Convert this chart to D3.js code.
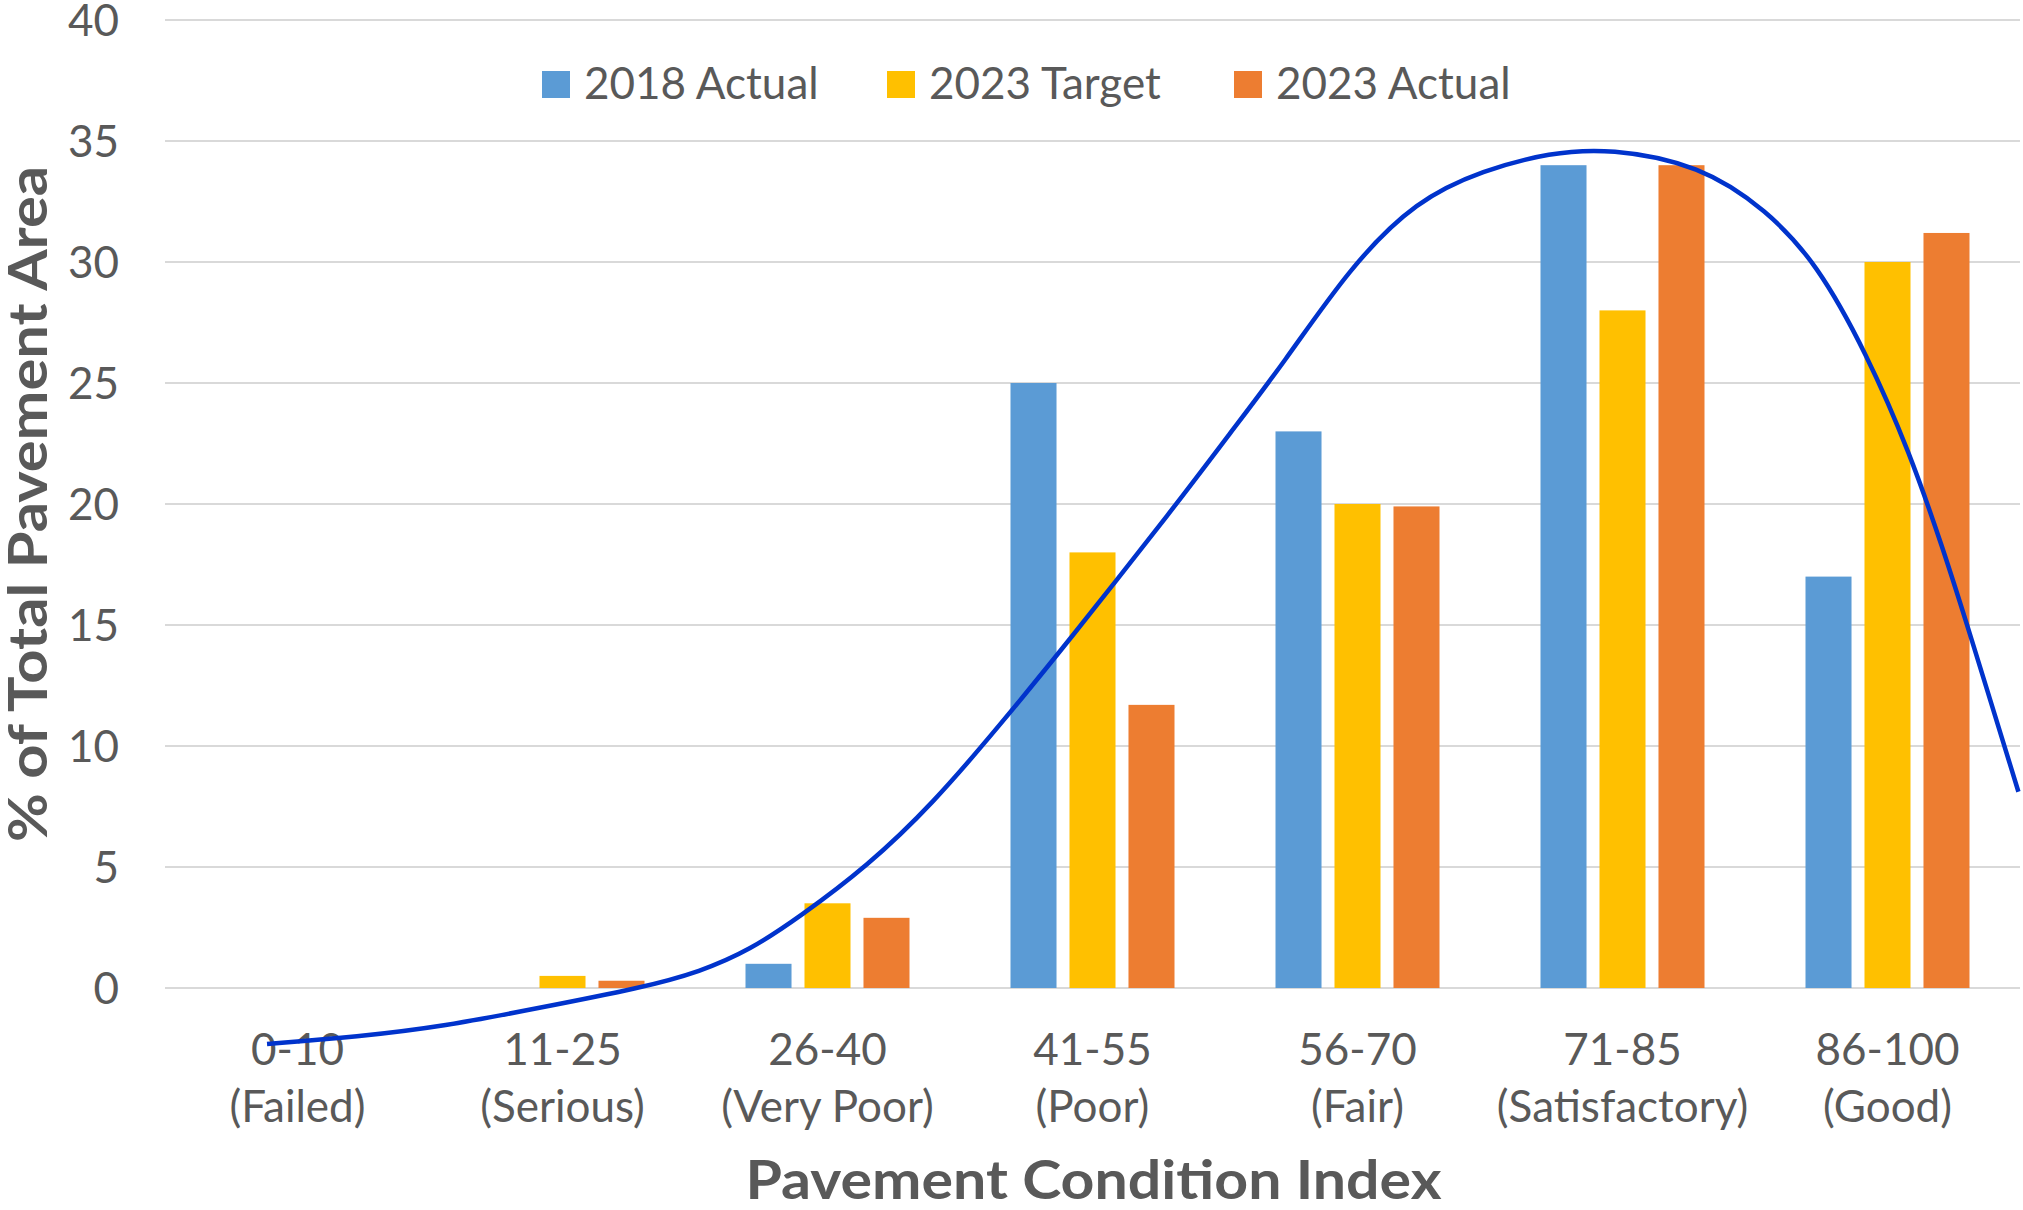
<!DOCTYPE html>
<html>
<head>
<meta charset="utf-8">
<script src="https://cdn.jsdelivr.net/npm/d3@7"></script>
<style>
  html, body { margin: 0; padding: 0; background: #ffffff; }
  svg { display: block; }
  text { font-family: Lato, "Noto Sans", "Open Sans", sans-serif; fill: #595959; }
</style>
</head>
<body>
<svg id="chart" width="2023" height="1210"></svg>
<script>
// ---------- DATA ----------
const categories = ["0-10", "11-25", "26-40", "41-55", "56-70", "71-85", "86-100"];
const categorySub = ["(Failed)", "(Serious)", "(Very Poor)", "(Poor)", "(Fair)", "(Satisfactory)", "(Good)"];
const seriesNames = ["2018 Actual", "2023 Target", "2023 Actual"];
const actual2018 = [0, 0, 1, 25, 23, 34, 17];
const target2023 = [0, 0.5, 3.5, 18, 20, 28, 30];
const actual2023 = [0, 0.3, 2.9, 11.7, 19.9, 34, 31.2];
const yTicks = [0, 5, 10, 15, 20, 25, 30, 35, 40];
// trend curve: position along the category axis (category index units) and value
const trendIndex = [-0.115, 0.225, 0.56, 0.889, 1.304, 1.519, 1.708, 1.896, 2.148, 2.399, 2.651, 2.903, 3.318, 3.517, 3.72, 3.972, 4.223, 4.475, 4.726, 4.953, 5.292, 5.544, 5.733, 5.921, 6.085, 6.211, 6.299, 6.494];
const trendValue = [-2.31, -2.02, -1.57, -0.87, 0.02, 0.67, 1.57, 2.95, 5.01, 7.63, 10.87, 14.24, 20.0, 22.9, 25.8, 29.8, 32.56, 33.8, 34.52, 34.7, 34.01, 32.15, 29.95, 26.23, 22.1, 18.1, 15.07, 8.11];
const xTitle = "Pavement Condition Index";
const yTitle = "% of Total Pavement Area";

// ---------- STYLE ----------
const colors = ["#5B9BD5", "#FFC000", "#ED7D31"];
const lineColor = "#0033CC";
const plot = { left: 165, right: 2020, top: 20, bottom: 988 };

const svg = d3.select("#chart");

const x0 = d3.scaleBand().domain(categories).range([plot.left, plot.right]).paddingInner(0).paddingOuter(0);
const bw = x0.bandwidth();
const x1 = d3.scaleBand().domain(seriesNames).range([bw / 2 - 82, bw / 2 + 82]).paddingInner(0.22).paddingOuter(0);
const y = d3.scaleLinear().domain([0, 40]).range([plot.bottom, plot.top]);
const xLin = d3.scaleLinear().domain([-0.5, categories.length - 0.5]).range([plot.left, plot.right]);

// gridlines
svg.append("g").selectAll("line").data(yTicks).join("line")
  .attr("x1", plot.left).attr("x2", plot.right)
  .attr("y1", d => y(d)).attr("y2", d => y(d))
  .attr("stroke", "#D9D9D9").attr("stroke-width", 2);

// y tick labels
svg.append("g").selectAll("text").data(yTicks).join("text")
  .attr("x", 119).attr("y", d => y(d)).attr("dy", "0.36em")
  .attr("text-anchor", "end").style("font-size", "44px")
  .text(d => d);

// bars
const seriesData = [actual2018, target2023, actual2023];
seriesNames.forEach((name, si) => {
  svg.append("g").selectAll("rect").data(categories).join("rect")
    .attr("x", c => x0(c) + x1(name))
    .attr("width", x1.bandwidth())
    .attr("y", (c, i) => y(seriesData[si][i]))
    .attr("height", (c, i) => y(0) - y(seriesData[si][i]))
    .attr("fill", colors[si]);
});

// category labels
const catG = svg.append("g");
categories.forEach((c, i) => {
  const cx = x0(c) + bw / 2;
  catG.append("text").attr("x", cx).attr("y", 1065).attr("text-anchor", "middle")
    .style("font-size", "44px").text(c);
  catG.append("text").attr("x", cx).attr("y", 1122).attr("text-anchor", "middle")
    .style("font-size", "44px").text(categorySub[i]);
});

// trend curve
const trendPts = trendIndex.map((u, i) => [u, trendValue[i]]);
const line = d3.line().x(d => xLin(d[0])).y(d => y(d[1])).curve(d3.curveBasis);
svg.append("path").datum(trendPts)
  .attr("d", line).attr("fill", "none")
  .attr("stroke", lineColor).attr("stroke-width", 4.5)
  .attr("stroke-linecap", "butt");

// legend
const legendX = [542, 887, 1234];
const legend = svg.append("g");
seriesNames.forEach((name, i) => {
  legend.append("rect").attr("x", legendX[i]).attr("y", 71).attr("width", 28).attr("height", 27).attr("fill", colors[i]);
  legend.append("text").attr("x", legendX[i] + 42).attr("y", 99).style("font-size", "44px").text(name);
});

// axis titles
svg.append("text").attr("x", (plot.left + plot.right) / 2 + 1).attr("y", 1199)
  .attr("text-anchor", "middle").style("font-size", "54px").style("font-weight", "bold")
  .attr("textLength", 696).attr("lengthAdjust", "spacingAndGlyphs")
  .text(xTitle);
svg.append("text").attr("transform", "translate(47,504) rotate(-90)")
  .attr("text-anchor", "middle").style("font-size", "54px").style("font-weight", "bold")
  .attr("textLength", 676).attr("lengthAdjust", "spacingAndGlyphs")
  .text(yTitle);
</script>
</body>
</html>
